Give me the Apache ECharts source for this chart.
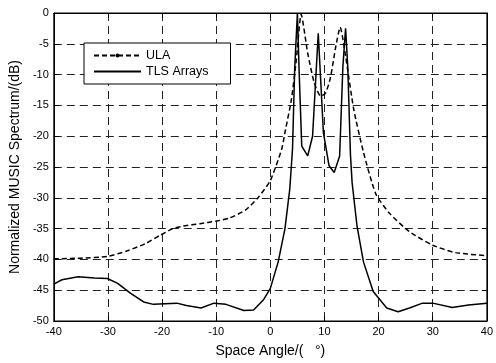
<!DOCTYPE html>
<html><head><meta charset="utf-8">
<script src="https://cdn.jsdelivr.net/npm/echarts@6/dist/echarts.min.js"></script>
<style>html,body{margin:0;padding:0;background:#fff}#c{width:496px;height:363px}</style>
</head><body><div id="c"></div>
<script>
const xTicks = [-40,-30,-20,-10,0,10,20,30,40];
const yTicks = [0,-5,-10,-15,-20,-25,-30,-35,-40,-45,-50];
const ulaAngle = [-40,-35,-30,-26.4,-23,-20.4,-18,-16.1,-13,-10.1,-7.6,-4.6,-2.2,0,2.1,2.7,3.9,4.8,5.7,6.9,8.1,9.3,10.2,11.1,12.1,12.9,13.9,15.4,17.2,19.5,22.1,25.7,30,34.2,40];
const ulaValue = [-39.9,-39.8,-39.5,-38.6,-37.4,-36.1,-35.0,-34.6,-34.2,-33.8,-33.3,-32.0,-29.9,-27.2,-22.1,-19.4,-14.0,-7.6,-0.2,-6.5,-11.3,-13.5,-13.0,-10.5,-5.4,-2.3,-7.0,-15.6,-22.6,-29.4,-32.6,-35.5,-37.7,-38.9,-39.4];
const tlsAngle = [-40,-38.5,-35.5,-32.5,-30.1,-28.2,-25.8,-23.4,-21.6,-17.3,-15.5,-12.8,-10.4,-8.2,-4.9,-3.1,-1.3,0,1.45,2.7,3.6,4.1,4.5,5.0,5.3,5.8,6.9,7.8,8.85,9.8,10.85,11.8,12.8,13.4,13.9,14.3,14.8,15.1,16.0,17.2,19.0,21.5,23.6,25.7,28.1,30.0,33.6,36.6,40];
const tlsValue = [-44.0,-43.3,-42.8,-43.0,-43.1,-43.9,-45.5,-46.9,-47.3,-47.1,-47.5,-47.9,-47.1,-47.3,-48.3,-48.2,-46.6,-44.7,-40.4,-35.0,-28.5,-22,-9,0,-9,-21.6,-23.2,-20.0,-3.3,-19.4,-24.8,-25.9,-23.2,-8.7,-2.5,-8.7,-23,-27.5,-34.5,-40.4,-45.2,-47.9,-48.5,-47.9,-47.1,-47.1,-47.8,-47.4,-47.1];
const seriesNames = ['ULA','TLS Arrays'];

const FONT = 'Liberation Sans, Arial, sans-serif';
const chart = echarts.init(document.getElementById('c'), null, {renderer:'canvas'});
const gridLine = {show:true, lineStyle:{color:'#222', type:[8,5], width:1}};
const axisBase = {axisLine:{show:true, onZero:false, lineStyle:{color:'#000', width:1}},
  axisTick:{show:true, inside:true, length:5, lineStyle:{color:'#000'}}};
chart.setOption({
  animation:false,
  backgroundColor:'#fff',
  grid:{left:52, right:4, top:13, bottom:40, show:true, borderColor:'#000', borderWidth:1},
  legend:{
    left:84, top:43, orient:'vertical',
    backgroundColor:'#fff', borderColor:'#000', borderWidth:1,
    padding:[6,22,6,9], itemGap:3, itemWidth:47, itemHeight:5,
    textStyle:{fontFamily:FONT, fontSize:12.5, color:'#000'},
    data:[{name:seriesNames[0]},{name:seriesNames[1], itemStyle:{opacity:0}}]
  },
  xAxis:[{
    type:'value', min:-40, max:40, interval:10, ...axisBase,
    splitLine:gridLine,
    axisLabel:{color:'#000', fontFamily:FONT, fontSize:11, margin:5},
    name:'Space Angle/(   °)', nameLocation:'middle', nameGap:23,
    nameTextStyle:{color:'#000', fontFamily:FONT, fontSize:14}
  },{
    type:'value', position:'top', min:-40, max:40, interval:10, ...axisBase,
    splitLine:{show:false}, axisLabel:{show:false}
  }],
  yAxis:[{
    type:'value', min:-50, max:0, interval:5, ...axisBase,
    splitLine:gridLine,
    axisLabel:{color:'#000', fontFamily:FONT, fontSize:11, margin:5},
    name:'Normalized MUSIC Spectrum/(dB)', nameLocation:'middle', nameGap:25,
    nameTextStyle:{color:'#000', fontFamily:FONT, fontSize:14}
  },{
    type:'value', position:'right', min:-50, max:0, interval:5, ...axisBase,
    splitLine:{show:false}, axisLabel:{show:false}
  }],
  series:[{
    name:seriesNames[0], type:'line', xAxisIndex:0, yAxisIndex:0,
    data:ulaAngle.map((a,i)=>[a,ulaValue[i]]),
    showSymbol:false, symbol:'circle', symbolSize:4,
    itemStyle:{color:'#000'},
    lineStyle:{color:'#000', width:1.5, type:[5,3]}, smooth:0.2, z:3
  },{
    name:seriesNames[1], type:'line', xAxisIndex:0, yAxisIndex:0,
    data:tlsAngle.map((a,i)=>[a,tlsValue[i]]),
    showSymbol:false, symbol:'none',
    itemStyle:{color:'#000'},
    lineStyle:{color:'#000', width:1.5, type:'solid'}, z:4
  }]
});
</script></body></html>
